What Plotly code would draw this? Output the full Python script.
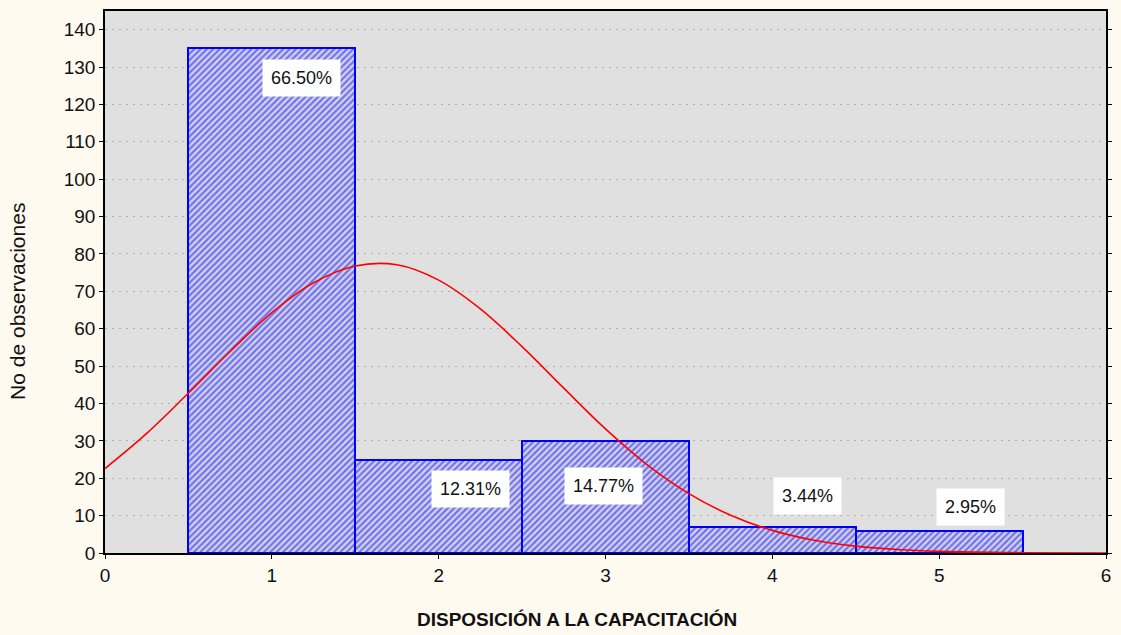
import plotly.graph_objects as go

# histogram data
categories = [1, 2, 3, 4, 5]
counts = [135, 25, 30, 7, 6]
pct_labels = ["66.50%", "12.31%", "14.77%", "3.44%", "2.95%"]

# expected normal curve
curve_x = [0, 0.25, 0.5, 0.75, 1.0, 1.25, 1.5, 1.75, 2.0, 2.25, 2.5, 2.75,
           3.0, 3.25, 3.5, 3.75, 4.0, 4.25, 4.5, 4.75, 5.0, 5.5, 6.0]
curve_y = [22.6, 32.0, 42.8, 53.9, 64.3, 72.3, 76.8, 77.1, 73.0, 65.3, 55.2, 44.1,
           33.2, 23.6, 15.9, 10.1, 6.05, 3.4, 1.83, 0.92, 0.44, 0.08, 0.01]

x_ticks = [0, 1, 2, 3, 4, 5, 6]
y_ticks = list(range(0, 150, 10))

# where the percentage boxes sit (data coords)
label_pos = [(1.18, 127), (2.19, 17), (2.99, 18), (4.21, 15.2), (5.19, 12.3)]

fig = go.Figure()

fig.add_trace(go.Bar(
    x=categories, y=counts, width=1,
    marker=dict(
        color="#d8d8e6",
        line=dict(color="#0000ff", width=2),
        pattern=dict(shape="/", fgcolor="#1010ff", bgcolor="#d4d4e4", size=4.5, solidity=0.5),
    ),
    showlegend=False,
))

fig.add_trace(go.Scatter(
    x=curve_x, y=curve_y, mode="lines",
    line=dict(color="#ff0000", width=1.6, shape="spline"),
    showlegend=False,
))

for (lx, ly), txt in zip(label_pos, pct_labels):
    fig.add_annotation(
        x=lx, y=ly, text=txt, showarrow=False,
        bgcolor="white", borderpad=8,
        font=dict(size=18, color="#111111"),
    )

# axis titles placed like the original (both slightly off centre)
fig.add_annotation(
    xref="paper", yref="paper", x=0.472, y=-0.123, yanchor="middle",
    text="<b>DISPOSICIÓN A LA CAPACITACIÓN</b>", showarrow=False,
    font=dict(size=19, color="#111111"),
)
fig.add_annotation(
    xref="paper", yref="paper", x=-0.087, y=0.465, xanchor="center", yanchor="middle",
    text="No de observaciones", textangle=-90, showarrow=False,
    font=dict(size=21, color="#111111"),
)

fig.update_layout(
    width=1121, height=635,
    margin=dict(l=105, r=11, t=9, b=82),
    paper_bgcolor="#fffaf0",
    plot_bgcolor="#e0e0e0",
    font=dict(family="Liberation Sans, Arial", color="#111111"),
    bargap=0,
)

fig.update_xaxes(
    range=[0, 6], tickvals=x_ticks, ticks="outside", ticklen=4,
    tickcolor="black", showgrid=False, zeroline=False,
    showline=True, linecolor="black", linewidth=1.5, mirror=True,
    tickfont=dict(size=19),
)
fig.update_yaxes(
    range=[0, 145], tickvals=y_ticks, ticks="outside", ticklen=4,
    tickcolor="black", showgrid=True, gridcolor="#b0b0b0", griddash="2px,5px", gridwidth=1,
    zeroline=False, showline=True, linecolor="black", linewidth=1.5, mirror="ticks",
    tickfont=dict(size=19),
)

fig.write_html("out.html", config={"displayModeBar": False},
               post_script="document.body.style.margin='0';")
